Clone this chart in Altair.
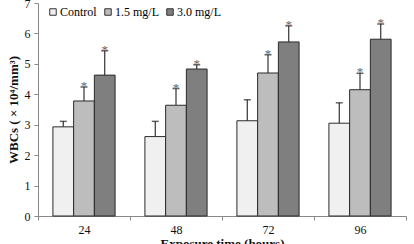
import altair as alt
import pandas as pd

hours = ["24", "48", "72", "96"]
groups = ["Control", "1.5 mg/L", "3.0 mg/L"]
colors = ["#f0f0f0", "#bdbdbd", "#7f7f7f"]

control_mean = [2.93, 2.61, 3.13, 3.05]
control_err = [0.18, 0.50, 0.69, 0.67]
low_mean = [3.78, 3.64, 4.70, 4.15]
low_err = [0.46, 0.55, 0.60, 0.54]
high_mean = [4.63, 4.83, 5.72, 5.81]
high_err = [0.80, 0.14, 0.53, 0.50]
star = ["", "*", "*"]
y_ticks = [0, 1, 2, 3, 4, 5, 6, 7]

rows = []
for g, means, errs, s in zip(groups, [control_mean, low_mean, high_mean],
                             [control_err, low_err, high_err], star):
    for h, m, e in zip(hours, means, errs):
        rows.append({"hour": h, "group": g, "mean": m, "top": m + e, "star": s})
df = pd.DataFrame(rows)

FONT = "Liberation Serif"

x = alt.X("hour:N", sort=hours, scale=alt.Scale(paddingInner=0, paddingOuter=0),
          axis=alt.Axis(title="Exposure time (hours)", labelAngle=0, tickBand="extent",
                        labelPadding=4, titlePadding=2))
xo = alt.XOffset("group:N", sort=groups, scale=alt.Scale(paddingInner=0, paddingOuter=0.72))
yscale = alt.Scale(domain=[0, 7], nice=False)
yaxis = alt.Axis(title="WBCs ( × 10⁴/mm³)", values=y_ticks, tickCount=8,
                 grid=False, titlePadding=4, labelPadding=4, labelOverlap=False)

base = alt.Chart(df).encode(x=x, xOffset=xo)

bars = base.mark_bar(stroke="#2a2a2a", strokeWidth=1).encode(
    y=alt.Y("mean:Q", scale=yscale, axis=yaxis),
    fill=alt.Fill("group:N", sort=groups,
                  scale=alt.Scale(domain=groups, range=colors),
                  legend=alt.Legend(title=None, orient="none", legendX=9, legendY=3,
                                    direction="horizontal", symbolType="square",
                                    symbolSize=42, symbolStrokeColor="#333",
                                    symbolStrokeWidth=1, labelFont=FONT,
                                    labelFontSize=12, columnPadding=5,
                                    labelOffset=1, padding=0)),
)

err = base.mark_rule(color="#333", strokeWidth=1.2).encode(
    y=alt.Y("mean:Q", scale=yscale, axis=yaxis), y2="top:Q")
cap = base.mark_tick(color="#222", orient="horizontal", size=7, thickness=1.5).encode(
    y=alt.Y("top:Q", scale=yscale, axis=yaxis))
stars = base.mark_text(fill="#666", fontSize=13, font=FONT, baseline="alphabetic", dy=3).encode(
    y=alt.Y("top:Q", scale=yscale, axis=yaxis), text="star:N")

chart = alt.layer(bars, err, cap, stars).properties(
    width=368, height=213,
    autosize=alt.AutoSizeParams(type="none"),
    padding={"left": 38, "top": 3, "right": 8, "bottom": 28},
).configure_view(stroke=None).configure_axis(
    labelFont=FONT, labelFontSize=12, labelColor="#111",
    titleFont=FONT, titleFontSize=13, titleFontWeight="bold", titleColor="#111",
    domainColor="#888", tickColor="#888", tickSize=4,
)

chart.save("out.html", embed_options={"renderer": "svg", "actions": False})
